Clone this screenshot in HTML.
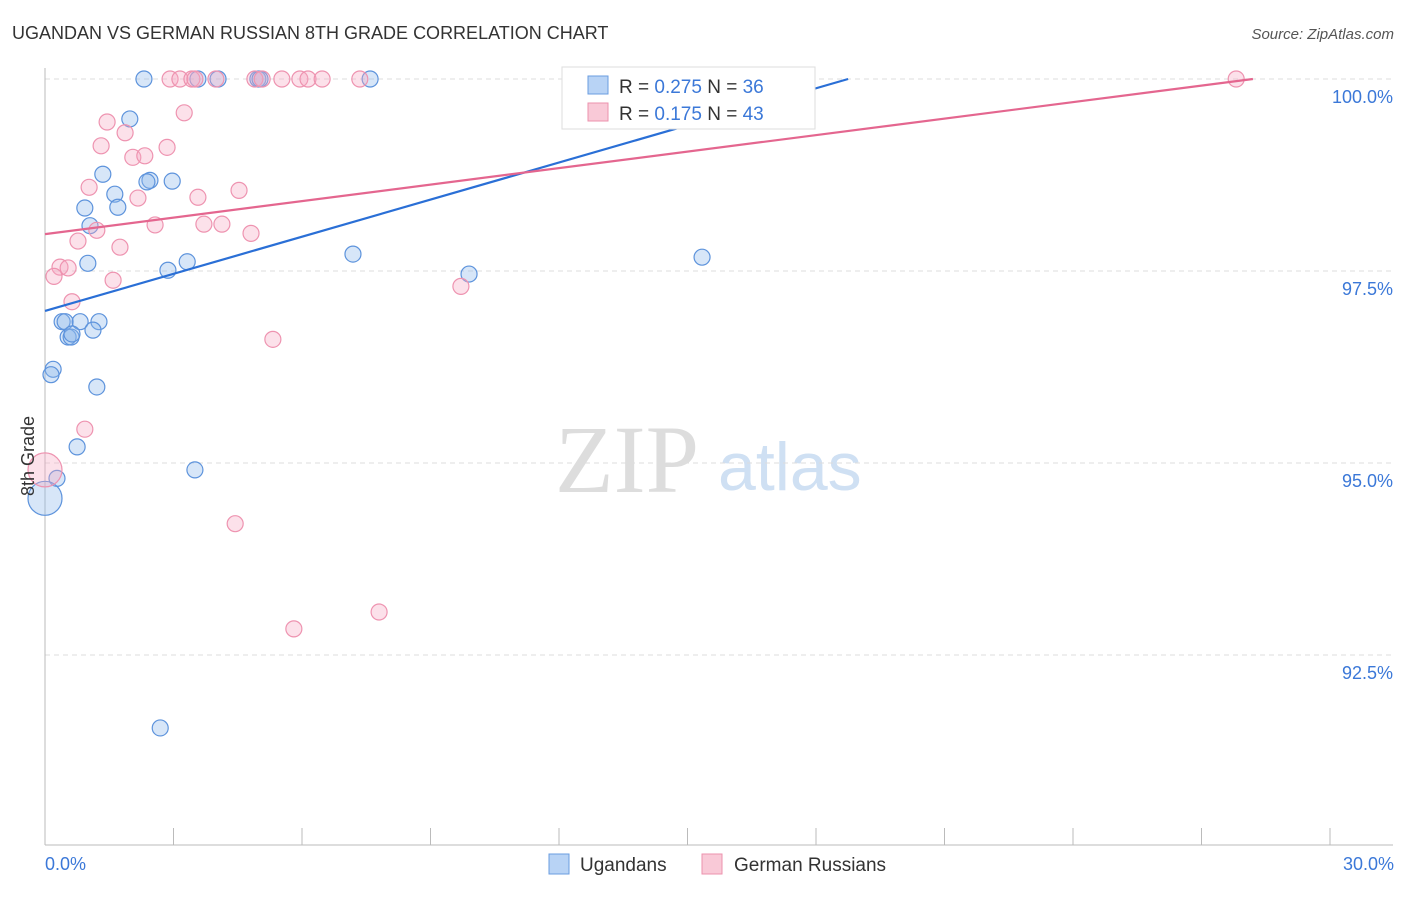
<!DOCTYPE html>
<html><head><meta charset="utf-8"><style>
body{margin:0;background:#fff;font-family:"Liberation Sans",sans-serif}
</style></head><body>
<svg width="1406" height="892" xmlns="http://www.w3.org/2000/svg">
<text x="12" y="39" font-size="18" fill="#333">UGANDAN VS GERMAN RUSSIAN 8TH GRADE CORRELATION CHART</text>
<text x="1394" y="39" font-size="15" fill="#555" font-style="italic" text-anchor="end">Source: ZipAtlas.com</text>
<text x="555" y="492" font-size="96" fill="#ddd" font-family="Liberation Serif">ZIP</text>
<text x="718" y="490" font-size="68" fill="#cfe0f3">atlas</text>
<g id="grid"></g><g id="axes"></g><g id="pts"></g><g id="lines"></g>
<text transform="translate(34,456) rotate(-90)" font-size="18" fill="#333" text-anchor="middle">8th Grade</text>
<text x="45" y="870" font-size="18" fill="#3b78d8">0.0%</text>
<text x="1394" y="870" font-size="18" fill="#3b78d8" text-anchor="end">30.0%</text>
<g>
<rect x="562" y="67" width="253" height="62" fill="#fff" stroke="#ddd"/>
<rect x="588" y="76" width="20" height="18" fill="#b8d3f5" stroke="#6a9de0"/>
<rect x="588" y="103" width="20" height="18" fill="#f9c9d7" stroke="#ec92ae"/>
<text x="619" y="93" font-size="19" fill="#333">R = <tspan fill="#3b78d8">0.275</tspan>   N = <tspan fill="#3b78d8">36</tspan></text>
<text x="619" y="120" font-size="19" fill="#333">R = <tspan fill="#3b78d8"> 0.175</tspan>   N = <tspan fill="#3b78d8">43</tspan></text>
</g>
<g>
<rect x="549" y="854" width="20" height="20" fill="#b8d3f5" stroke="#6a9de0"/>
<text x="580" y="871" font-size="19" fill="#333">Ugandans</text>
<rect x="702" y="854" width="20" height="20" fill="#f9c9d7" stroke="#ec92ae"/>
<text x="734" y="871" font-size="19" fill="#333">German Russians</text>
</g>
</svg>
<script>
const yTicks=[100,97.5,95,92.5];
const yTickLabels=["100.0%","97.5%","95.0%","92.5%"];
const xTicks=[0,3,6,9,12,15,18,21,24,27,30];
const blueX=[2.31,3.57,4.04,4.97,5.02,7.59,1.98,1.35,1.63,2.45,2.38,2.97,0.93,1.70,1.05,7.19,15.34,1.00,3.32,2.87,9.90,0.40,0.47,0.82,1.26,1.12,0.54,0.61,0.63,0.19,0.14,1.21,0.75,0.28,3.50,0.0,2.69];
const blueY=[100,100,100,100,100,100,99.48,98.76,98.50,98.68,98.66,98.67,98.32,98.33,98.09,97.72,97.68,97.60,97.62,97.51,97.46,96.84,96.84,96.84,96.84,96.73,96.64,96.64,96.68,96.22,96.15,95.99,95.21,94.80,94.91,94.54,91.55];
const blueR=[8,8,8,8,8,8,8,8,8,8,8,8,8,8,8,8,8,8,8,8,8,8,8,8,8,8,8,8,8,8,8,8,8,8,8,17,8];
const pinkX=[2.92,3.15,3.43,3.50,3.99,4.90,5.07,5.53,5.95,6.14,6.47,7.35,12.49,27.81,3.25,1.45,1.87,1.31,2.85,2.05,2.33,1.03,4.53,2.17,3.57,2.57,3.71,4.13,1.21,4.81,0.77,1.75,0.35,0.54,0.21,1.59,9.71,0.63,5.32,0.93,0,4.44,5.81,7.80];
const pinkY=[100,100,100,100,100,100,100,100,100,100,100,100,100,100,99.56,99.44,99.30,99.13,99.11,98.98,99.0,98.59,98.55,98.45,98.46,98.10,98.11,98.11,98.03,97.99,97.89,97.81,97.55,97.54,97.43,97.38,97.30,97.10,96.61,95.44,94.91,94.21,92.84,93.06];
const pinkR=pinkX.map((v,i)=>i===40?17:8);
const blueTrend=[[0,96.98],[18.75,100]];
const pinkTrend=[[0,97.98],[28.2,100]];
const NS="http://www.w3.org/2000/svg";
const X=v=>45+v*(1285/30);
const Y=v=>79+(100-v)*76.8;
function mk(tag,a,parent){const e=document.createElementNS(NS,tag);for(const k in a)e.setAttribute(k,a[k]);document.getElementById(parent).appendChild(e);return e;}
yTicks.forEach((t,i)=>{
 const l=mk('line',{x1:45,x2:1393,y1:Y(t),y2:Y(t),stroke:'#ddd','stroke-dasharray':'5,4'},'grid');
 
 
 const tx=mk('text',{x:1393,y:Y(t)+24,'font-size':18,fill:'#3b78d8','text-anchor':'end'},'grid');
 tx.textContent=yTickLabels[i];
 
 
});
let a=mk('line',{x1:45,x2:45,y1:68,y2:845,stroke:'#bbb'},'axes');


a=mk('line',{x1:45,x2:1393,y1:845,y2:845,stroke:'#bbb'},'axes');


xTicks.forEach(t=>{
 const l=mk('line',{x1:X(t),x2:X(t),y1:828,y2:845,stroke:'#bbb'},'axes');
 
 
});
blueX.forEach((v,i)=>{
 const c=mk('circle',{cx:X(v),cy:Y(blueY[i]),r:blueR[i],fill:'rgba(140,182,236,0.35)',stroke:'#5d93dc','stroke-width':1.2},'pts');
 
 
});
pinkX.forEach((v,i)=>{
 const c=mk('circle',{cx:X(v),cy:Y(pinkY[i]),r:pinkR[i],fill:'rgba(246,170,195,0.35)',stroke:'#ee93b0','stroke-width':1.2},'pts');
 
 
});
let t=mk('line',{x1:X(blueTrend[0][0]),y1:Y(blueTrend[0][1]),x2:X(blueTrend[1][0]),y2:Y(blueTrend[1][1]),stroke:'#2a6fd6','stroke-width':2.2},'lines');


t=mk('line',{x1:X(pinkTrend[0][0]),y1:Y(pinkTrend[0][1]),x2:X(pinkTrend[1][0]),y2:Y(pinkTrend[1][1]),stroke:'#e4668f','stroke-width':2.2},'lines');


</script>
</body></html>
